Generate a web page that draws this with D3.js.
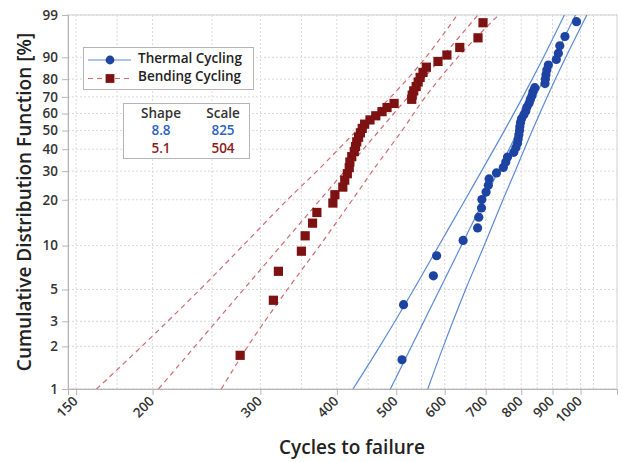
<!DOCTYPE html>
<html>
<head>
<meta charset="utf-8">
<script src="https://cdn.jsdelivr.net/npm/d3@7"></script>
<style>
  body { margin: 0; background: #fff; }
  text { font-family: "Open Sans", sans-serif; }
</style>
</head>
<body>
<div id="wrapper"></div>
<script>
// Weibull probability plot: thermal vs bending cycling

// --- data ---
const seriesNames = ["Thermal Cycling", "Bending Cycling"];
const shapes = [8.8, 5.1];
const scales = [825, 504];

const thermalCycles = [511, 514, 575, 582, 643, 679, 682, 689, 690, 701, 707, 709, 729, 748, 755,
  760, 778, 784, 789, 791, 793, 795, 796, 798, 801, 808, 814, 817, 824, 828, 833, 836, 842,
  875, 876, 878, 881, 886, 913, 920, 925, 943, 985];
const thermalPct = [1.61, 3.92, 6.22, 8.53, 10.83, 13.13, 15.44, 17.74, 20.05, 22.35, 24.65, 26.96,
  29.26, 31.57, 33.87, 36.18, 38.48, 40.78, 43.09, 45.39, 47.70, 50.00, 52.30, 54.61, 56.91, 59.22,
  61.52, 63.82, 66.13, 68.43, 70.74, 73.04, 75.35, 77.65, 79.95, 82.26, 84.56, 86.87, 89.17, 91.47,
  93.78, 96.08, 98.39];

const bendingCycles = [278, 315, 321, 350, 355, 365, 371, 394, 397, 409, 412, 416, 419, 420, 423,
  427, 429, 431, 434, 437, 440, 444, 453, 463, 474, 483, 496, 530, 531, 534, 539, 543, 547, 553,
  560, 585, 605, 635, 680, 693];
const bendingPct = [1.73, 4.21, 6.68, 9.16, 11.63, 14.11, 16.58, 19.06, 21.53, 24.01, 26.49, 28.96,
  31.44, 33.91, 36.39, 38.86, 41.34, 43.81, 46.29, 48.76, 51.24, 53.71, 56.19, 58.66, 61.14, 63.61,
  66.09, 68.56, 71.04, 73.51, 75.99, 78.47, 80.94, 83.42, 85.89, 88.37, 90.84, 93.32, 95.79, 98.27];

// confidence bounds (cycles at given percent)
const boundPct = [1, 2, 5, 10, 20, 30, 50, 70, 90, 99];
const thermalLower = [425, 470, 534, 587, 648, 689, 751, 805, 870, 941];
const thermalUpper = [563, 597, 649, 696, 747, 782, 834, 882, 946, 1024];
const bendingLower = [162, 192, 239, 281, 332, 371, 431, 490, 559, 629];
const bendingUpper = [259, 286, 332, 375, 424, 457, 511, 558, 630, 735];

const xTicks = [150, 200, 300, 400, 500, 600, 700, 800, 900, 1000];
const xGrid = [150, 175, 200, 250, 300, 350, 400, 450, 500, 550, 600, 650, 700, 750, 800, 850, 900, 950, 1000, 1050];
const yTicks = [1, 2, 3, 5, 10, 20, 30, 40, 50, 60, 70, 80, 90, 99];

let dimensions = {
  width: 622, height: 462,
  margin: { top: 15, right: 5, bottom: 73, left: 68 },
};
dimensions.boundedWidth = dimensions.width - dimensions.margin.left - dimensions.margin.right;
dimensions.boundedHeight = dimensions.height - dimensions.margin.top - dimensions.margin.bottom;

const blueDot = "#1d43a3";
const blueLine = "#5b8ad4";
const redDot = "#7e1111";
const redLine = "#d06b70";

const weibull = p => Math.log(-Math.log(1 - p / 100));

const wrapper = d3.select("#wrapper").append("svg")
  .attr("width", dimensions.width)
  .attr("height", dimensions.height);

const bounds = wrapper.append("g")
  .attr("transform", `translate(${dimensions.margin.left}, ${dimensions.margin.top})`);

const xScale = d3.scaleLog()
  .domain([145.5, 1147])
  .range([0, dimensions.boundedWidth]);

const yScale = d3.scaleLinear()
  .domain([weibull(1), weibull(99)])
  .range([dimensions.boundedHeight, 0]);

// grid
bounds.append("g").selectAll("line").data(xGrid).join("line")
  .attr("x1", d => xScale(d)).attr("x2", d => xScale(d))
  .attr("y1", 0).attr("y2", dimensions.boundedHeight)
  .attr("stroke", "#dadada").attr("stroke-dasharray", "2,2");
bounds.append("g").selectAll("line").data(yTicks).join("line")
  .attr("x1", 0).attr("x2", dimensions.boundedWidth)
  .attr("y1", d => yScale(weibull(d))).attr("y2", d => yScale(weibull(d)))
  .attr("stroke", "#dadada").attr("stroke-dasharray", "2,2");

// frame
bounds.append("rect")
  .attr("width", dimensions.boundedWidth).attr("height", dimensions.boundedHeight)
  .attr("fill", "none").attr("stroke", "#cfcfcf");

bounds.append("clipPath").attr("id", "clip")
  .append("rect").attr("width", dimensions.boundedWidth).attr("height", dimensions.boundedHeight);

const plot = bounds.append("g").attr("clip-path", "url(#clip)");

const boundLine = d3.line()
  .x(d => xScale(d[0]))
  .y(d => yScale(weibull(d[1])))
  .curve(d3.curveCatmullRom);

const fitPoints = (shape, scale) => [1, 99].map(p =>
  [scale * Math.pow(-Math.log(1 - p / 100), 1 / shape), p]);

const series = [
  { lower: thermalLower, upper: thermalUpper, color: blueLine, dash: null, i: 0 },
  { lower: bendingLower, upper: bendingUpper, color: redLine, dash: "5,4", i: 1 },
];

series.forEach(s => {
  [s.lower, s.upper].forEach(arr => {
    plot.append("path")
      .attr("d", boundLine(arr.map((c, j) => [c, boundPct[j]])))
      .attr("fill", "none").attr("stroke", s.color).attr("stroke-width", 1.2)
      .attr("stroke-dasharray", s.dash);
  });
  plot.append("path")
    .attr("d", boundLine(fitPoints(shapes[s.i], scales[s.i])))
    .attr("fill", "none").attr("stroke", s.color).attr("stroke-width", 1.2)
    .attr("stroke-dasharray", s.dash);
});

// points
plot.append("g").selectAll("circle").data(thermalCycles).join("circle")
  .attr("cx", d => xScale(d))
  .attr("cy", (d, i) => yScale(weibull(thermalPct[i])))
  .attr("r", 4.6)
  .attr("fill", blueDot);

plot.append("g").selectAll("rect").data(bendingCycles).join("rect")
  .attr("x", d => xScale(d) - 4.6)
  .attr("y", (d, i) => yScale(weibull(bendingPct[i])) - 4.6)
  .attr("width", 9.2).attr("height", 9.2)
  .attr("fill", redDot);

// axes
const yAxisGenerator = d3.axisLeft(yScale)
  .tickValues(yTicks.map(weibull))
  .tickFormat((d, i) => yTicks[i])
  .tickSize(6).tickPadding(4);
const yAxis = bounds.append("g").call(yAxisGenerator);

const xAxisGenerator = d3.axisBottom(xScale)
  .tickValues(xTicks)
  .tickFormat(d3.format("d"))
  .tickSize(6);
const xAxis = bounds.append("g")
  .attr("transform", `translate(0, ${dimensions.boundedHeight})`)
  .call(xAxisGenerator);

[xAxis, yAxis].forEach(ax => {
  ax.select(".domain").attr("stroke", "#b5b5b5");
  ax.selectAll(".tick line").attr("stroke", "#b5b5b5");
  ax.selectAll("text")
    .attr("fill", "#333")
    .style("font-size", "13.5px")
    .style("font-weight", 600);
});

xAxis.selectAll("text")
  .attr("x", 0).attr("y", 0).attr("dy", 0)
  .attr("transform", "translate(2, 13) rotate(-45)")
  .style("text-anchor", "end");

// axis titles
wrapper.append("text")
  .attr("x", 352).attr("y", 454)
  .attr("text-anchor", "middle")
  .style("font-size", "19px").style("font-weight", 600).attr("fill", "#222")
  .text("Cycles to failure");

wrapper.append("text")
  .attr("transform", "translate(31, 202) rotate(-90)")
  .attr("text-anchor", "middle")
  .style("font-size", "19px").style("font-weight", 600).attr("fill", "#222")
  .text("Cumulative Distribution Function [%]");

// legend
const legend = wrapper.append("g");
legend.append("rect")
  .attr("x", 83.5).attr("y", 47.5).attr("width", 170).attr("height", 42)
  .attr("fill", "#fff").attr("stroke", "#b5b5b5");

const legendY = [60, 78.5];
seriesNames.forEach((name, i) => {
  const color = i === 0 ? blueLine : redLine;
  legend.append("line")
    .attr("x1", 88).attr("x2", 131).attr("y1", legendY[i]).attr("y2", legendY[i])
    .attr("stroke", color).attr("stroke-width", 1.2)
    .attr("stroke-dasharray", i === 0 ? null : "5,4");
  if (i === 0) {
    legend.append("circle").attr("cx", 110).attr("cy", legendY[i]).attr("r", 4.4).attr("fill", blueDot);
  } else {
    legend.append("rect").attr("x", 105.6).attr("y", legendY[i] - 4.4)
      .attr("width", 8.8).attr("height", 8.8).attr("fill", redDot);
  }
  legend.append("text")
    .attr("x", 138).attr("y", legendY[i] + 2.5)
    .style("font-size", "13.5px").style("font-weight", 600).attr("fill", "#222")
    .text(name);
});

// shape/scale table
const table = wrapper.append("g");
table.append("rect")
  .attr("x", 123.5).attr("y", 103.5).attr("width", 126).attr("height", 55)
  .attr("fill", "#fff").attr("stroke", "#b5b5b5");
const colX = [161, 223];
["Shape", "Scale"].forEach((h, j) => {
  table.append("text").attr("x", colX[j]).attr("y", 118)
    .attr("text-anchor", "middle")
    .style("font-size", "13.5px").style("font-weight", 600).attr("fill", "#333")
    .text(h);
});
const rowY = [135, 153];
const rowColor = ["#2f5fbf", "#8c1c1c"];
shapes.forEach((s, i) => {
  table.append("text").attr("x", colX[0]).attr("y", rowY[i])
    .attr("text-anchor", "middle")
    .style("font-size", "13.5px").style("font-weight", 600).attr("fill", rowColor[i])
    .text(s.toFixed(1));
  table.append("text").attr("x", colX[1]).attr("y", rowY[i])
    .attr("text-anchor", "middle")
    .style("font-size", "13.5px").style("font-weight", 600).attr("fill", rowColor[i])
    .text(scales[i]);
});
</script>
</body>
</html>
